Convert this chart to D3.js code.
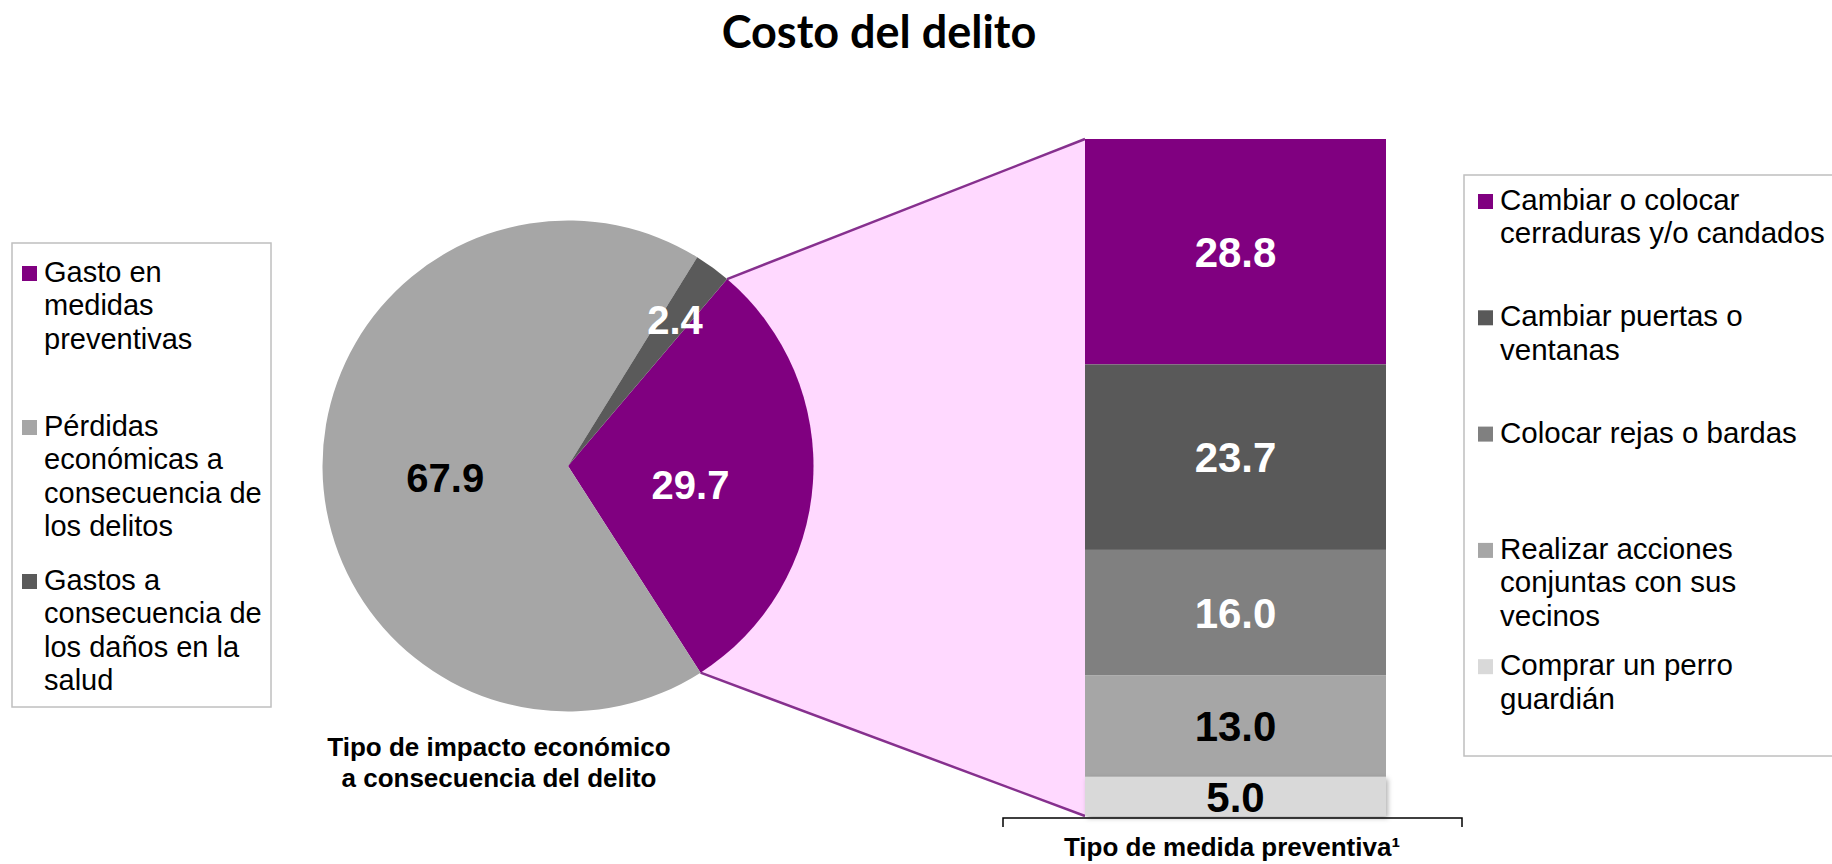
<!DOCTYPE html>
<html>
<head>
<meta charset="utf-8">
<script src="https://cdn.jsdelivr.net/npm/d3@7"></script>
<style>
body { margin: 0; background: #fff; }
svg { display: block; font-family: "Liberation Sans", Arial, sans-serif; }
</style>
</head>
<body>
<svg id="chart" width="1832" height="864"></svg>
<script>
// pie: tipo de impacto economico
var pieKeys = ["Gasto en medidas preventivas", "Pérdidas económicas a consecuencia de los delitos", "Gastos a consecuencia de los daños en la salud"];
var pieValues = [29.7, 67.9, 2.4];
var pieColors = ["#800080", "#a6a6a6", "#5a5a5a"];
var pieLegendLines = [
    ["Gasto en", "medidas", "preventivas"],
    ["Pérdidas", "económicas a", "consecuencia de", "los delitos"],
    ["Gastos a", "consecuencia de", "los daños en la", "salud"]
];

// bar: tipo de medida preventiva (top to bottom)
var barKeys = ["Cambiar o colocar cerraduras y/o candados", "Cambiar puertas o ventanas", "Colocar rejas o bardas", "Realizar acciones conjuntas con sus vecinos", "Comprar un perro guardián"];
var barValues = [28.8, 23.7, 16.0, 13.0, 5.0];
var barColors = ["#800080", "#595959", "#808080", "#a6a6a6", "#d9d9d9"];
var barLegendLines = [
    ["Cambiar o colocar", "cerraduras y/o candados"],
    ["Cambiar puertas o", "ventanas"],
    ["Colocar rejas o bardas"],
    ["Realizar acciones", "conjuntas con sus", "vecinos"],
    ["Comprar un perro", "guardián"]
];

var title = "Costo del delito";
var pieCaption = ["Tipo de impacto económico", "a consecuencia del delito"];
var barCaption = "Tipo de medida preventiva\u00b9";

var svg = d3.select("#chart");

function labelColor(c) {
    return d3.lab(c).l < 55 ? "#fff" : "#000";
}

svg.append("defs").append("filter")
    .attr("id", "shadow")
    .attr("x", "-10%").attr("y", "-20%").attr("width", "120%").attr("height", "160%")
  .append("feDropShadow")
    .attr("dx", 2).attr("dy", 2).attr("stdDeviation", 2.5)
    .attr("flood-color", "#000").attr("flood-opacity", 0.3);

// title
svg.append("text")
    .attr("x", 879).attr("y", 48)
    .attr("text-anchor", "middle")
    .style("font-family", "Lato, 'Open Sans', sans-serif")
    .style("font-weight", "bold")
    .style("font-size", "45px")
    .text(title);

// ---- pie ----
var cx = 568, cy = 466, radius = 245.5;
var start = 40.4 * Math.PI / 180;
var pie = d3.pie().sort(null).startAngle(start).endAngle(start + 2 * Math.PI);
var arcs = pie(pieValues);
var arc = d3.arc().innerRadius(0).outerRadius(radius);

// ---- bar ----
var total = d3.sum(barValues);
var y = d3.scaleLinear().domain([0, total]).range([816, 139]);
var x = d3.scaleBand().domain(["medida"]).range([1085, 1386]).padding(0);

// stack from the bottom
var tops = [];
var acc = 0;
for (var i = barValues.length - 1; i >= 0; i--) {
    tops[i] = [acc, acc + barValues[i]];
    acc += barValues[i];
}

// connector between the purple slice and the bar
var a0 = arcs[0].startAngle, a1 = arcs[0].endAngle;
var p0 = [cx + radius * Math.sin(a0), cy - radius * Math.cos(a0)];
var p1 = [cx + radius * Math.sin(a1), cy - radius * Math.cos(a1)];
var b0 = [x("medida"), y(total)];
var b1 = [x("medida"), y(0)];

svg.append("path")
    .attr("d", "M" + [p0, b0, b1, p1].join("L") + "Z")
    .attr("fill", "#ffd9ff");
svg.append("line")
    .attr("x1", p0[0]).attr("y1", p0[1]).attr("x2", b0[0]).attr("y2", b0[1])
    .attr("stroke", "#86308e").attr("stroke-width", 2.5);
svg.append("line")
    .attr("x1", p1[0]).attr("y1", p1[1]).attr("x2", b1[0]).attr("y2", b1[1])
    .attr("stroke", "#86308e").attr("stroke-width", 2.5);

var pieG = svg.append("g").attr("transform", "translate(" + cx + "," + cy + ")");
pieG.selectAll("path")
    .data(arcs)
    .enter()
    .append("path")
      .attr("d", arc)
      .attr("fill", function(d, i) { return pieColors[i]; });

pieG.selectAll("text")
    .data(arcs)
    .enter()
    .append("text")
      .attr("transform", function(d) {
          var r = d.value < 5 ? radius * 0.74 : radius * 0.5;
          var lab = d3.arc().innerRadius(r).outerRadius(r);
          var c = lab.centroid(d);
          return "translate(" + c[0] + "," + c[1] + ")";
      })
      .attr("dy", function(d) { return d.value < 5 ? "0.36em" : "0.62em"; })
      .attr("text-anchor", "middle")
      .style("font-weight", "bold")
      .style("font-size", "40px")
      .attr("fill", function(d, i) { return labelColor(pieColors[i]); })
      .text(function(d) { return d.value.toFixed(1); });

// bar segments
var barG = svg.append("g");
barG.selectAll("rect")
    .data(barValues)
    .enter()
    .append("rect")
      .attr("x", x("medida"))
      .attr("width", x.bandwidth())
      .attr("y", function(d, i) { return y(tops[i][1]); })
      .attr("height", function(d, i) { return y(tops[i][0]) - y(tops[i][1]); })
      .attr("fill", function(d, i) { return barColors[i]; })
      .attr("filter", function(d, i) { return i == barValues.length - 1 ? "url(#shadow)" : null; });

barG.selectAll("text")
    .data(barValues)
    .enter()
    .append("text")
      .attr("x", x("medida") + x.bandwidth() / 2)
      .attr("y", function(d, i) { return (y(tops[i][0]) + y(tops[i][1])) / 2; })
      .attr("dy", "0.36em")
      .attr("text-anchor", "middle")
      .style("font-weight", "bold")
      .style("font-size", "42px")
      .attr("fill", function(d, i) { return labelColor(barColors[i]); })
      .text(function(d) { return d.toFixed(1); });

// bracket under the bar
svg.append("path")
    .attr("d", "M1003,827V818H1462V827")
    .attr("fill", "none")
    .attr("stroke", "#000")
    .attr("stroke-width", 1.5);

// captions
svg.append("text")
    .attr("x", 499).attr("y", 756)
    .attr("text-anchor", "middle")
    .style("font-weight", "bold")
    .style("font-size", "26px")
    .selectAll("tspan")
    .data(pieCaption)
    .enter()
    .append("tspan")
      .attr("x", 499)
      .attr("dy", function(d, i) { return i == 0 ? 0 : 31; })
      .text(function(d) { return d; });

svg.append("text")
    .attr("x", 1232).attr("y", 856)
    .attr("text-anchor", "middle")
    .style("font-weight", "bold")
    .style("font-size", "26px")
    .text(barCaption);

// legends
function drawLegend(box, entryY0, slot, lines, colors, fontSize) {
    var g = svg.append("g");
    g.append("rect")
        .attr("x", box.x).attr("y", box.y)
        .attr("width", box.w).attr("height", box.h)
        .attr("fill", "#fff")
        .attr("stroke", "#bfbfbf")
        .attr("stroke-width", 1.5);
    var items = g.selectAll(".item")
        .data(lines)
        .enter()
        .append("g")
          .attr("class", "item")
          .attr("transform", function(d, i) { return "translate(0," + (entryY0 + i * slot) + ")"; });
    items.append("rect")
        .attr("x", box.x + box.pad).attr("y", -16)
        .attr("width", 15).attr("height", 15)
        .attr("fill", function(d, i) { return colors[i]; });
    items.append("text")
        .style("font-size", fontSize + "px")
        .attr("fill", "#000")
        .selectAll("tspan")
        .data(function(d) { return d; })
        .enter()
        .append("tspan")
          .attr("x", box.x + box.pad + 22)
          .attr("y", function(d, i) { return i * 33.4; })
          .text(function(d) { return d; });
}

drawLegend({x: 12, y: 243, w: 259, h: 464, pad: 10}, 282, 154, pieLegendLines, pieColors, 29);
drawLegend({x: 1464, y: 175, w: 370, h: 581, pad: 14}, 210, 116.3, barLegendLines, barColors, 29.5);
</script>
</body>
</html>
